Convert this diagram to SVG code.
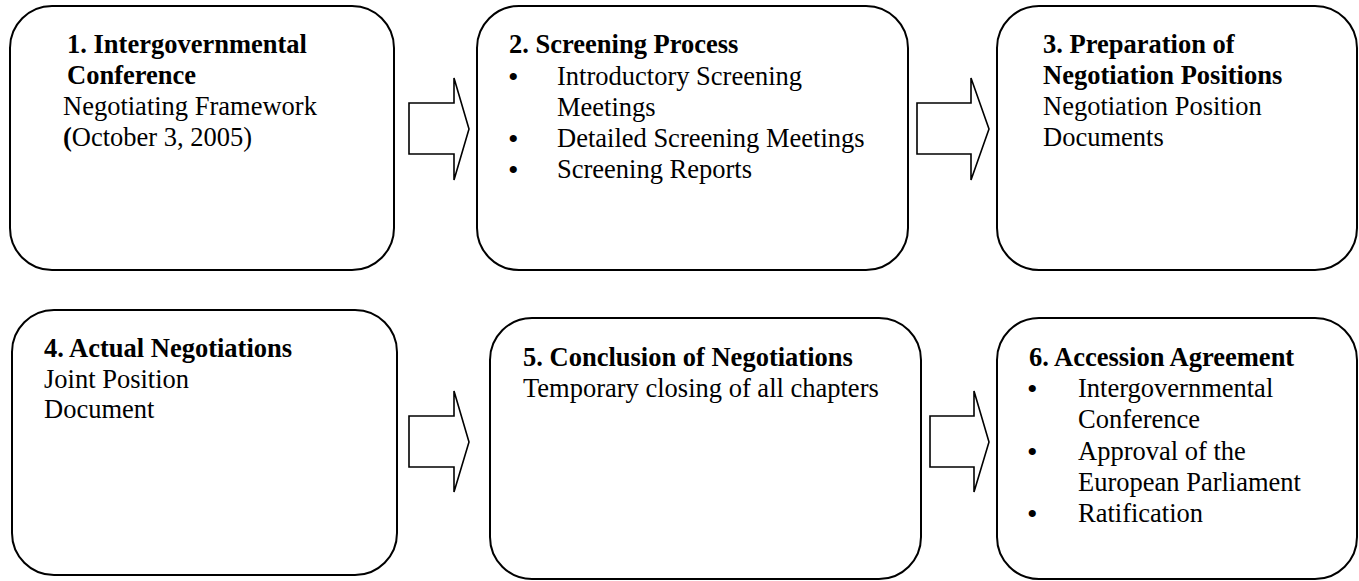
<svg xmlns="http://www.w3.org/2000/svg" width="1359" height="581" viewBox="0 0 1359 581">
<style>
.box{fill:#fff;stroke:#000;stroke-width:2}
.arr{fill:#fff;stroke:#000;stroke-width:1.6;stroke-linejoin:miter}
text{font-family:"Liberation Serif","Times New Roman",serif;font-size:26.5px;fill:#000}
.b{font-weight:bold}
.bul{font-size:30px}
</style>
<rect width="1359" height="581" fill="#fff"/>
<g id="connectors">
<polygon class="arr" points="409,103 454,103 454,78 469,129 454,180 454,154 409,154"/>
<polygon class="arr" points="917,103 971,103 971,78 989,129 971,180 971,154 917,154"/>
<polygon class="arr" points="409,416 454,416 454,391 469,442 454,492 454,467 409,467"/>
<polygon class="arr" points="930,416 974,416 974,391 989,442 974,492 974,467 930,467"/>
</g>
<g id="node1">
<rect class="box" x="10" y="6" width="384" height="264" rx="42"/>
<text class="b" x="67" y="53">1. Intergovernmental</text>
<text class="b" x="67" y="84">Conference</text>
<text x="63" y="115">Negotiating Framework</text>
<text x="63" y="146"><tspan class="b">(</tspan>October 3, 2005)</text>
</g>
<g id="node2">
<rect class="box" x="477" y="6" width="431" height="264" rx="42"/>
<text class="b" x="509" y="53">2. Screening Process</text>
<text class="bul" x="508" y="87">•</text>
<text x="557" y="85">Introductory Screening</text>
<text x="557" y="116">Meetings</text>
<text class="bul" x="508" y="149">•</text>
<text x="557" y="147">Detailed Screening Meetings</text>
<text class="bul" x="508" y="180">•</text>
<text x="557" y="178">Screening Reports</text>
</g>
<g id="node3">
<rect class="box" x="997" y="6" width="360" height="264" rx="42"/>
<text class="b" x="1043" y="53">3. Preparation of</text>
<text class="b" x="1043" y="84">Negotiation Positions</text>
<text x="1043" y="115">Negotiation Position</text>
<text x="1043" y="146">Documents</text>
</g>
<g id="node4">
<rect class="box" x="12" y="310" width="385" height="265" rx="42"/>
<text class="b" x="44" y="357">4. Actual Negotiations</text>
<text x="44" y="388">Joint Position</text>
<text x="44" y="418">Document</text>
</g>
<g id="node5">
<rect class="box" x="490" y="318" width="431" height="261" rx="42"/>
<text class="b" x="523" y="366">5. Conclusion of Negotiations</text>
<text x="523" y="397">Temporary closing of all chapters</text>
</g>
<g id="node6">
<rect class="box" x="997" y="318" width="360" height="261" rx="42"/>
<text class="b" x="1029" y="366">6. Accession Agreement</text>
<text class="bul" x="1027" y="399">•</text>
<text x="1078" y="397">Intergovernmental</text>
<text x="1078" y="428">Conference</text>
<text class="bul" x="1027" y="462">•</text>
<text x="1078" y="460">Approval of the</text>
<text x="1078" y="491">European Parliament</text>
<text class="bul" x="1027" y="524">•</text>
<text x="1078" y="522">Ratification</text>
</g>
</svg>
